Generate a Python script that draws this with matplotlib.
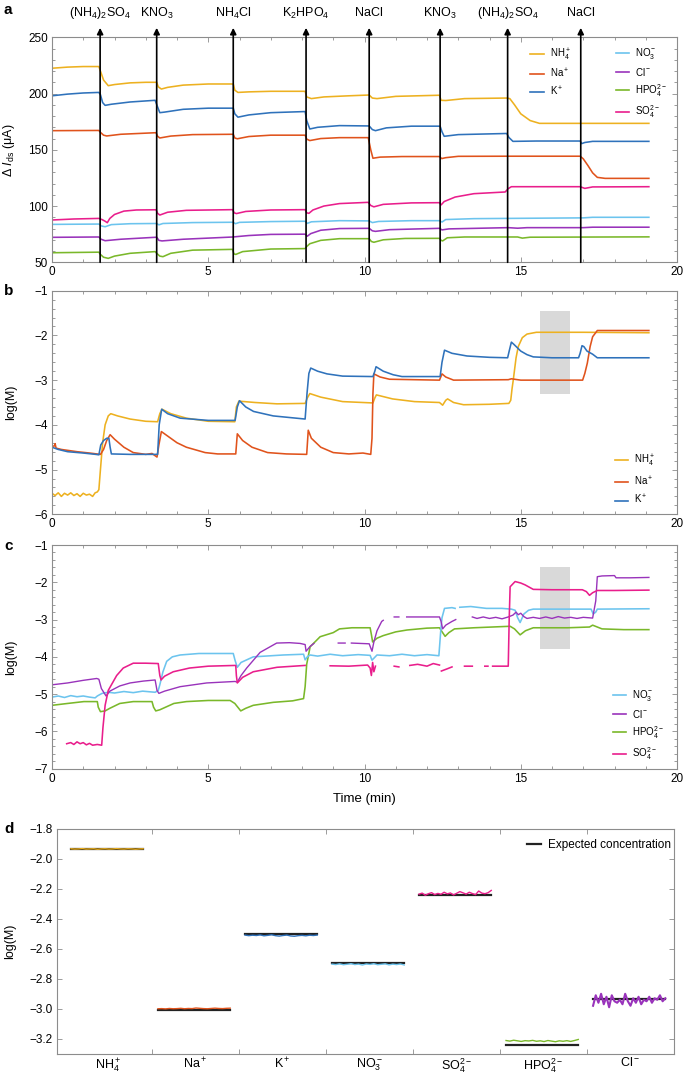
import numpy as np
import matplotlib
matplotlib.use('Agg')
import matplotlib.pyplot as plt
from matplotlib.ticker import MultipleLocator, FuncFormatter
from matplotlib.lines import Line2D

plt.rcParams['font.family'] = ['Liberation Sans', 'DejaVu Sans']
plt.rcParams['mathtext.fontset'] = 'custom'
plt.rcParams['mathtext.rm'] = 'Liberation Sans'
plt.rcParams['mathtext.it'] = 'Liberation Sans:italic'
plt.rcParams['mathtext.bf'] = 'Liberation Sans:bold'

# colours per ion
c_nh4 = '#EDB120'
c_na = '#E0531C'
c_k = '#2F72BB'
c_no3 = '#6CC4EE'
c_cl = '#9933BB'
c_hpo4 = '#7AB82A'
c_so4 = '#E91E8C'

# additions (panel a arrows)
add_times = [1.54, 3.35, 5.80, 8.13, 10.15, 12.42, 14.58, 16.92]
add_labels = [r'(NH$_4$)$_2$SO$_4$', r'KNO$_3$', r'NH$_4$Cl', r'K$_2$HPO$_4$',
              'NaCl', r'KNO$_3$', r'(NH$_4$)$_2$SO$_4$', 'NaCl']

# ---- panel a: delta Ids (uA), (time, value) pairs
nh4_a = [(0, 222.5), (0.5, 223.5), (1.0, 224), (1.5, 224), (1.55, 220), (1.65, 212), (1.8, 207),
         (2.0, 208), (2.5, 209.5), (3.0, 210), (3.35, 210), (3.4, 206), (3.5, 204), (3.7, 205.5),
         (4.2, 207.5), (5.0, 208.5), (5.8, 208.5), (5.85, 203), (5.95, 201), (6.3, 201.5),
         (7.0, 202), (8.1, 202), (8.15, 197), (8.3, 195.5), (8.7, 197), (9.5, 198), (10.15, 198.7),
         (10.25, 196), (10.4, 195.5), (11.0, 197.5), (12.4, 198.5), (12.45, 194), (12.6, 193.8),
         (13.2, 195.5), (14.55, 196), (14.65, 195.5), (14.8, 190), (15.0, 182), (15.3, 176),
         (15.6, 173.5), (19.1, 173.5)]
na_a = [(0, 167), (1.5, 167.2), (1.55, 165.5), (1.65, 163), (1.75, 162.3), (2.2, 163.8),
        (3.33, 165.2), (3.38, 162), (3.45, 160.5), (3.8, 162.2), (4.5, 163.5), (5.8, 163.8),
        (5.85, 160.5), (5.93, 159.8), (6.3, 161.8), (7.0, 163), (8.1, 163), (8.15, 159.5),
        (8.25, 158.2), (8.6, 160), (9.2, 160.8), (10.12, 160.8), (10.2, 150), (10.27, 142.5),
        (10.5, 143.5), (11.2, 144), (12.4, 144), (12.47, 142.2), (12.6, 143), (13.0, 144.2),
        (14.6, 144.3), (16.9, 144.3), (17.0, 142), (17.15, 136), (17.3, 129.5), (17.45, 125.5),
        (17.7, 124.6), (19.1, 124.6)]
k_a = [(0, 198), (0.5, 199.5), (1.0, 200.5), (1.5, 201), (1.55, 199), (1.62, 192), (1.7, 189.5),
       (1.9, 190.5), (2.5, 192.5), (3.3, 194), (3.38, 188), (3.45, 183), (3.6, 183.5), (4.2, 186),
       (5.0, 187), (5.8, 187), (5.85, 182), (5.95, 179), (6.3, 181), (7.0, 183), (8.1, 184),
       (8.15, 176), (8.25, 168.5), (8.5, 170), (9.2, 171.5), (10.15, 171.2), (10.25, 168),
       (10.35, 167), (10.7, 169.5), (11.5, 171), (12.42, 171), (12.48, 166), (12.55, 162),
       (13.0, 163.5), (14.55, 164.5), (14.62, 161), (14.75, 157.5), (15.5, 157.8), (16.9, 157.8),
       (16.95, 155.5), (17.05, 156.5), (17.3, 157.5), (19.1, 157.5)]
no3_a = [(0, 83.7), (1.5, 84), (1.58, 82.3), (1.7, 81.6), (1.9, 83.5), (2.5, 84.3), (3.35, 84.5),
         (3.42, 83.3), (3.55, 84.5), (4.5, 85.3), (5.8, 85.6), (5.87, 84.3), (6.0, 85.5),
         (7.0, 86.2), (8.1, 86.5), (8.17, 84.6), (8.3, 86), (9.2, 87), (10.15, 86.8),
         (10.25, 85.3), (10.45, 86.3), (11.5, 87), (12.4, 87), (12.48, 85.8), (12.6, 88),
         (13.5, 88.8), (17.0, 89.5), (17.3, 90), (19.1, 90)]
cl_a = [(0, 72.2), (1.5, 72.5), (1.57, 70.5), (1.7, 69.2), (2.2, 70.5), (3.35, 72.3), (3.42, 69.5),
        (3.52, 69), (4.2, 70.5), (5.8, 72.5), (5.9, 72.8), (6.3, 73.8), (7.0, 74.8), (8.1, 75),
        (8.17, 73.2), (8.28, 75.5), (8.6, 78.5), (9.2, 80), (10.15, 80.2), (10.25, 78),
        (10.35, 77.5), (10.8, 79), (12.4, 80.2), (12.48, 78.8), (12.7, 79.7), (14.6, 80.8),
        (14.9, 80.3), (15.2, 80.8), (17.0, 80.8), (17.3, 81.2), (19.1, 81.2)]
hpo4_a = [(0, 58.5), (1.5, 59), (1.55, 57), (1.65, 54.5), (1.8, 53.5), (2.0, 55.5), (2.5, 58),
          (3.3, 59.5), (3.35, 58), (3.45, 55.5), (3.55, 55), (3.8, 58), (4.5, 60.8), (5.78, 61.5),
          (5.82, 57.5), (5.88, 57), (6.1, 59.5), (7.0, 61.8), (8.1, 62.2), (8.15, 64), (8.25, 66.5),
          (8.6, 69.5), (9.2, 71), (10.15, 71), (10.22, 68.5), (10.3, 67.8), (10.6, 70),
          (11.3, 71.2), (12.4, 71.3), (12.45, 69.5), (12.5, 69), (12.65, 71.8), (13.2, 72.5),
          (14.9, 72.5), (15.05, 71.5), (15.3, 72.3), (19.1, 72.6)]
so4_a = [(0, 87.6), (0.7, 88.5), (1.5, 89), (1.6, 88), (1.7, 86.5), (1.77, 85.2), (1.85, 89),
         (2.0, 92.5), (2.3, 95.5), (2.7, 96.5), (3.33, 96.7), (3.38, 93.5), (3.45, 92), (3.7, 94.5),
         (4.3, 96.2), (5.78, 96.8), (5.83, 94), (5.9, 93.3), (6.2, 95.2), (7.0, 96.5), (8.1, 96.8),
         (8.15, 94), (8.22, 93.5), (8.35, 96.5), (8.7, 100), (9.2, 102.2), (10.12, 103.3),
         (10.2, 100.5), (10.3, 99.3), (10.6, 101.5), (11.5, 102.8), (12.4, 103), (12.45, 101),
         (12.55, 104), (12.9, 108), (13.5, 111), (14.5, 112.5), (14.6, 115.5), (14.7, 117.2),
         (16.9, 117.2), (17.05, 115.7), (17.3, 117), (19.1, 117.2)]

# ---- panel b: cations, log(M)
nh4_b = [(0.04, -5.55), (0.1, -5.58), (0.2, -5.52), (0.3, -5.6), (0.4, -5.53), (0.5, -5.57),
         (0.6, -5.52), (0.7, -5.58), (0.8, -5.54), (0.9, -5.6), (1.0, -5.53), (1.1, -5.57),
         (1.2, -5.55), (1.3, -5.6), (1.38, -5.52), (1.45, -5.5), (1.5, -5.45), (1.55, -5.0),
         (1.62, -4.4), (1.7, -4.0), (1.8, -3.8), (1.88, -3.75), (2.1, -3.8), (2.5, -3.87),
         (3.0, -3.92), (3.38, -3.93), (3.45, -3.75), (3.52, -3.65), (3.8, -3.75), (4.3, -3.85),
         (5.0, -3.92), (5.85, -3.93), (5.9, -3.6), (5.98, -3.47), (6.5, -3.5), (7.2, -3.53),
         (8.1, -3.52), (8.17, -3.4), (8.25, -3.3), (8.6, -3.38), (9.3, -3.48), (10.27, -3.51),
         (10.33, -3.4), (10.38, -3.33), (10.9, -3.42), (11.6, -3.48), (12.4, -3.5), (12.5, -3.56),
         (12.6, -3.45), (12.66, -3.42), (12.85, -3.5), (13.17, -3.55), (14.0, -3.54),
         (14.62, -3.52), (14.68, -3.45), (14.72, -3.2), (14.76, -3.0), (14.85, -2.5),
         (14.92, -2.25), (15.05, -2.05), (15.2, -1.97), (15.5, -1.93), (17.0, -1.93), (19.1, -1.94)]
na_b = [(0.0, -4.48), (0.08, -4.47), (0.1, -4.42), (0.13, -4.52), (0.3, -4.55), (0.8, -4.6),
        (1.2, -4.63), (1.55, -4.66), (1.65, -4.55), (1.75, -4.35), (1.86, -4.22), (2.0, -4.32),
        (2.3, -4.5), (2.6, -4.62), (3.0, -4.66), (3.2, -4.64), (3.36, -4.72), (3.42, -4.45),
        (3.5, -4.15), (3.7, -4.25), (4.0, -4.4), (4.3, -4.5), (4.9, -4.62), (5.3, -4.65),
        (5.88, -4.65), (5.93, -4.2), (6.1, -4.35), (6.4, -4.5), (6.9, -4.62), (7.5, -4.65),
        (8.15, -4.66), (8.2, -4.12), (8.3, -4.3), (8.6, -4.5), (9.0, -4.62), (9.5, -4.65),
        (9.95, -4.63), (10.2, -4.66), (10.24, -4.3), (10.27, -3.3), (10.3, -2.86), (10.5, -2.93),
        (10.8, -2.98), (12.4, -3.0), (12.48, -2.86), (12.6, -2.93), (12.85, -3.0), (14.6, -2.99),
        (14.7, -2.97), (15.0, -3.0), (16.98, -3.0), (17.05, -2.85), (17.13, -2.62),
        (17.22, -2.25), (17.3, -2.03), (17.45, -1.89), (19.1, -1.89)]
k_b = [(0.0, -4.5), (0.2, -4.55), (0.5, -4.6), (1.0, -4.63), (1.4, -4.66), (1.5, -4.67),
       (1.56, -4.45), (1.65, -4.35), (1.75, -4.3), (1.82, -4.3), (1.86, -4.5), (1.9, -4.65),
       (2.5, -4.66), (3.38, -4.66), (3.43, -4.0), (3.51, -3.65), (3.7, -3.75), (4.1, -3.85),
       (5.0, -3.9), (5.86, -3.9), (5.93, -3.6), (6.0, -3.46), (6.2, -3.6), (6.45, -3.7),
       (7.08, -3.8), (8.1, -3.87), (8.16, -3.3), (8.22, -2.85), (8.28, -2.73), (8.5, -2.8),
       (8.8, -2.86), (9.3, -2.91), (10.27, -2.92), (10.33, -2.8), (10.37, -2.7), (10.6, -2.8),
       (10.92, -2.88), (11.2, -2.92), (12.42, -2.92), (12.48, -2.6), (12.56, -2.33), (12.8, -2.4),
       (13.28, -2.46), (14.0, -2.49), (14.58, -2.5), (14.63, -2.35), (14.7, -2.15), (14.78, -2.2),
       (15.0, -2.35), (15.2, -2.43), (15.4, -2.48), (16.0, -2.5), (16.85, -2.5), (16.9, -2.4),
       (16.96, -2.23), (17.02, -2.25), (17.12, -2.35), (17.3, -2.42), (17.45, -2.5), (19.1, -2.5)]

nan = float('nan')
# ---- panel c: anions, log(M); nan = gap in the trace
no3_c = [(0, -5.08), (0.2, -5.05), (0.4, -5.09), (0.6, -5.04), (0.8, -5.07), (1.0, -5.05),
         (1.2, -5.08), (1.38, -5.1), (1.45, -5.05), (1.6, -4.98), (1.8, -4.95), (2.0, -4.97),
         (2.3, -4.93), (2.6, -4.96), (2.9, -4.92), (3.3, -4.95), (3.4, -4.9), (3.45, -4.75),
         (3.55, -4.4), (3.67, -4.12), (3.85, -4.0), (4.1, -3.95), (4.7, -3.91), (5.8, -3.91),
         (5.86, -4.1), (5.93, -4.28), (6.05, -4.15), (6.44, -4.0), (7.4, -3.95), (8.05, -3.93),
         (8.1, -4.08), (8.17, -4.0), (8.26, -3.95), (8.5, -3.98), (8.9, -3.93), (9.3, -3.97),
         (9.8, -3.94), (10.18, -3.96), (10.24, -4.09), (10.4, -3.95), (10.8, -3.97), (11.2, -3.93),
         (11.6, -3.97), (12.0, -3.94), (12.38, -3.97), (12.44, -3.3), (12.48, -2.95),
         (12.56, -2.7), (12.8, -2.68), (12.9, -2.7), (13.0, nan), (13.05, -2.67), (13.4, -2.65),
         (13.9, -2.7), (14.4, -2.7), (14.7, -2.72), (14.82, -2.75), (14.9, -2.95), (14.98, -3.08),
         (15.1, -2.85), (15.25, -2.75), (15.4, -2.72), (16.5, -2.72), (17.25, -2.72),
         (17.32, -2.85), (17.4, -2.8), (17.45, -2.72), (19.1, -2.71)]
cl_c = [(0, -4.75), (0.5, -4.7), (1.0, -4.63), (1.43, -4.58), (1.5, -4.6), (1.58, -4.85),
        (1.73, -5.05), (1.85, -4.92), (2.17, -4.78), (2.5, -4.7), (2.92, -4.65), (3.3, -4.62),
        (3.36, -4.9), (3.42, -4.98), (3.6, -4.92), (4.1, -4.8), (4.95, -4.7), (5.86, -4.66),
        (5.93, -4.68), (6.05, -4.5), (6.23, -4.3), (6.66, -3.88), (7.19, -3.63), (7.6, -3.62),
        (7.94, -3.64), (8.1, -3.67), (8.13, -3.85), (8.26, -3.72), (8.38, -3.64), (8.5, nan),
        (9.16, -3.63), (9.38, -3.63), (9.45, nan), (9.58, -3.63), (10.15, -3.65), (10.24, -3.85),
        (10.3, -3.6), (10.4, -3.3), (10.55, -3.05), (10.6, -3.02), (10.7, nan), (10.95, -2.93),
        (11.1, -2.93), (11.2, nan), (11.35, -2.93), (12.4, -2.93), (12.45, -3.05), (12.5, -3.25),
        (12.6, -3.15), (12.8, -3.05), (12.92, -3.0), (13.0, nan), (13.45, -2.93), (13.6, -2.97),
        (13.8, -2.93), (14.0, -2.97), (14.2, -2.94), (14.4, -2.98), (14.6, -2.93), (14.75, -2.88),
        (14.85, -2.8), (14.92, -2.87), (15.0, -2.83), (15.1, -2.92), (15.2, -2.97), (15.4, -2.94),
        (15.6, -2.97), (15.8, -2.93), (16.0, -2.97), (16.2, -2.92), (16.4, -2.96), (16.6, -2.94),
        (16.8, -2.97), (17.0, -2.94), (17.3, -2.96), (17.4, -2.5), (17.45, -1.85), (17.6, -1.83),
        (18.0, -1.82), (18.05, -1.88), (18.5, -1.88), (19.1, -1.87)]
hpo4_c = [(0, -5.3), (0.5, -5.25), (1.02, -5.2), (1.45, -5.2), (1.48, -5.35), (1.55, -5.47),
          (1.7, -5.45), (1.85, -5.38), (2.17, -5.25), (2.6, -5.2), (3.2, -5.2), (3.25, -5.35),
          (3.32, -5.45), (3.45, -5.42), (3.9, -5.25), (4.3, -5.2), (5.0, -5.17), (5.7, -5.17),
          (5.85, -5.25), (6.04, -5.45), (6.2, -5.38), (6.44, -5.3), (7.08, -5.22), (7.7, -5.18),
          (8.05, -5.12), (8.1, -4.8), (8.15, -4.2), (8.26, -3.73), (8.58, -3.46), (9.0, -3.35),
          (9.2, -3.25), (9.6, -3.22), (10.18, -3.22), (10.22, -3.4), (10.26, -3.6), (10.4, -3.5),
          (10.6, -3.43), (11.0, -3.33), (11.36, -3.28), (12.0, -3.23), (12.4, -3.22),
          (12.46, -3.3), (12.58, -3.45), (12.7, -3.35), (12.88, -3.25), (13.5, -3.22),
          (14.66, -3.18), (14.8, -3.25), (14.98, -3.41), (15.15, -3.3), (15.4, -3.22),
          (16.5, -3.22), (17.2, -3.2), (17.3, -3.15), (17.45, -3.2), (17.6, -3.25), (18.3, -3.27),
          (19.1, -3.27)]
so4_c = [(0.47, -6.33), (0.6, -6.3), (0.7, -6.35), (0.8, -6.28), (0.9, -6.33), (1.0, -6.3),
         (1.1, -6.36), (1.2, -6.32), (1.3, -6.37), (1.45, -6.35), (1.59, -6.37), (1.63, -5.9),
         (1.7, -5.3), (1.8, -4.9), (2.07, -4.5), (2.28, -4.3), (2.6, -4.17), (3.0, -4.17),
         (3.4, -4.18), (3.45, -4.5), (3.49, -4.62), (3.6, -4.52), (3.88, -4.4), (4.4, -4.3),
         (5.0, -4.25), (5.88, -4.23), (5.9, -4.5), (5.93, -4.7), (6.1, -4.55), (6.44, -4.4),
         (7.2, -4.28), (8.1, -4.23), (8.5, nan), (8.9, -4.24), (9.5, -4.25), (10.1, -4.22),
         (10.18, -4.3), (10.22, -4.5), (10.26, -4.15), (10.3, -4.4), (10.35, -4.25), (10.5, nan),
         (10.95, -4.25), (11.1, -4.27), (11.3, nan), (11.45, -4.23), (11.7, -4.2), (12.0, -4.25),
         (12.2, -4.18), (12.4, -4.22), (12.43, nan), (12.46, -4.38), (12.65, -4.32),
         (12.8, -4.27), (13.0, nan), (13.2, -4.25), (13.45, -4.25), (13.6, nan), (13.85, -4.25),
         (13.95, -4.25), (14.0, nan), (14.1, -4.25), (14.6, -4.25), (14.63, -3.0), (14.66, -2.12),
         (14.82, -1.98), (15.0, -2.02), (15.14, -2.07), (15.4, -2.19), (16.0, -2.2),
         (16.97, -2.2), (17.1, -2.25), (17.2, -2.35), (17.3, -2.28), (17.45, -2.22), (18.0, -2.22),
         (19.1, -2.21)]

# grey window used for panel d
win_t = (15.62, 16.58)
win_b = (-3.32, -1.45)
win_c = (-3.8, -1.58)

# ---- panel d: readings inside the window, log(M)
d_names = [r'NH$_4^+$', r'Na$^+$', r'K$^+$', r'NO$_3^-$', r'SO$_4^{2-}$', r'HPO$_4^{2-}$', r'Cl$^-$']
d_colors = [c_nh4, c_na, c_k, c_no3, c_so4, c_hpo4, c_cl]
nh4_d = [-1.932, -1.934, -1.933, -1.931, -1.934, -1.933, -1.932, -1.935, -1.933, -1.932,
         -1.934, -1.933, -1.931, -1.933, -1.934, -1.932, -1.933, -1.935, -1.933, -1.932]
na_d = [-3.0, -2.999, -3.001, -2.998, -3.0, -2.999, -2.997, -3.0, -2.998, -2.999,
        -2.995, -2.997, -2.999, -3.0, -2.998, -2.996, -2.998, -2.999, -2.997, -2.996]
k_d = [-2.508, -2.512, -2.509, -2.511, -2.507, -2.513, -2.51, -2.506, -2.512, -2.515,
       -2.511, -2.508, -2.514, -2.516, -2.512, -2.51, -2.513, -2.509, -2.511, -2.508]
no3_d = [-2.702, -2.705, -2.7, -2.706, -2.703, -2.699, -2.705, -2.702, -2.708, -2.701,
         -2.704, -2.699, -2.706, -2.703, -2.7, -2.707, -2.702, -2.705, -2.701, -2.708]
so4_d = [-2.235, -2.228, -2.242, -2.232, -2.225, -2.238, -2.23, -2.236, -2.222, -2.233, -2.227,
         -2.24, -2.229, -2.218, -2.226, -2.235, -2.222, -2.231, -2.238, -2.214, -2.228, -2.232,
         -2.225, -2.21]
hpo4_d = [-3.212, -3.216, -3.21, -3.214, -3.218, -3.213, -3.215, -3.211, -3.217, -3.214,
          -3.219, -3.212, -3.216, -3.22, -3.214, -3.217, -3.213, -3.218, -3.212, -3.205]
cl_d = [-2.98, -2.91, -2.96, -2.9, -2.97, -2.92, -2.99, -2.91, -2.95, -2.96, -2.94, -2.97, -2.9,
        -2.95, -2.98, -2.93, -2.96, -2.92, -2.97, -2.94, -2.95, -2.92, -2.96, -2.93, -2.94,
        -2.91, -2.95, -2.93]
expected_d = [-1.933, -3.011, -2.498, -2.694, -2.239, -3.24, -2.932]

W, H = 685, 1078
fig = plt.figure(figsize=(W / 100, H / 100), dpi=100)


def box(l, t, r, b):
    return fig.add_axes([l / W, 1 - b / H, (r - l) / W, (b - t) / H])


def style(ax, minor_x=None, minor_y=None):
    for s in ax.spines.values():
        s.set_color('#8c8c8c')
        s.set_linewidth(0.8)
    ax.tick_params(which='both', direction='in', top=True, right=True, color='#8c8c8c',
                   labelsize=8.5, width=0.6, pad=3)
    ax.tick_params(which='major', length=3.5)
    ax.tick_params(which='minor', length=2)
    if minor_x:
        ax.xaxis.set_minor_locator(MultipleLocator(minor_x))
    if minor_y:
        ax.yaxis.set_minor_locator(MultipleLocator(minor_y))


def trace(ax, pts, color, lw=1.15):
    t, v = zip(*pts)
    ax.plot(t, v, color=color, lw=lw, solid_joinstyle='round')


def small_legend(ax, colors, labels, anchor, loc, spacing):
    hs = [Line2D([], [], color=c, lw=1.2) for c in colors]
    return ax.legend(hs, labels, loc=loc, bbox_to_anchor=anchor, frameon=False, fontsize=7,
                     handlelength=1.4, handletextpad=0.6, labelspacing=spacing,
                     borderaxespad=0, borderpad=0)


minus = FuncFormatter(lambda v, p: ('%g' % v).replace('-', '\u2212'))

# ---------------- a
ax_a = box(52, 37.3, 677, 262.3)
for pts, col in [(nh4_a, c_nh4), (na_a, c_na), (k_a, c_k), (no3_a, c_no3),
                 (cl_a, c_cl), (hpo4_a, c_hpo4), (so4_a, c_so4)]:
    trace(ax_a, pts, col)
ax_a.set_xlim(0, 20)
ax_a.set_ylim(50, 250)
ax_a.set_xticks([0, 5, 10, 15, 20])
ax_a.set_yticks([50, 100, 150, 200, 250])
style(ax_a, 1, 10)
ax_a.set_ylabel(r'$\Delta\ \mathit{I}_{\mathrm{ds}}$ ($\mathrm{\mu}$A)', fontsize=9)
ax_a.yaxis.set_label_coords(-0.056, 0.5)
for t, lab in zip(add_times, add_labels):
    ax_a.annotate('', xy=(t, 1.042), xytext=(t, 0), xycoords=('data', 'axes fraction'),
                  textcoords=('data', 'axes fraction'), annotation_clip=False,
                  arrowprops=dict(arrowstyle='-|>', color='black', lw=1.2, mutation_scale=9,
                                  shrinkA=0, shrinkB=0))
    ax_a.text(t, 1.108, lab, transform=ax_a.get_xaxis_transform(), ha='center', va='center',
              fontsize=9, clip_on=False)
leg1 = small_legend(ax_a, (c_nh4, c_na, c_k), [r'NH$_4^+$', r'Na$^+$', r'K$^+$'],
                    (0.765, 0.96), 'upper left', 0.45)
ax_a.add_artist(leg1)
small_legend(ax_a, (c_no3, c_cl, c_hpo4, c_so4),
             [r'NO$_3^-$', r'Cl$^-$', r'HPO$_4^{2-}$', r'SO$_4^{2-}$'],
             (0.902, 0.96), 'upper left', 0.45)

# ---------------- b
ax_b = box(52, 290.7, 677, 514.3)
ax_b.fill_between(win_t, win_b[0], win_b[1], color='#d9d9d9', lw=0, zorder=0)
trace(ax_b, nh4_b, c_nh4)
trace(ax_b, na_b, c_na)
trace(ax_b, k_b, c_k)
ax_b.set_xlim(0, 20)
ax_b.set_ylim(-6, -1)
ax_b.set_xticks([0, 5, 10, 15, 20])
ax_b.set_yticks([-6, -5, -4, -3, -2, -1])
style(ax_b, 1, 0.2)
ax_b.yaxis.set_major_formatter(minus)
ax_b.set_ylabel('log(M)', fontsize=9)
ax_b.yaxis.set_label_coords(-0.056, 0.5)
small_legend(ax_b, (c_nh4, c_na, c_k), [r'NH$_4^+$', r'Na$^+$', r'K$^+$'],
             (0.9, 0.035), 'lower left', 0.55)

# ---------------- c
ax_c = box(52, 545, 677, 768.7)
ax_c.fill_between(win_t, win_c[0], win_c[1], color='#d9d9d9', lw=0, zorder=0)
trace(ax_c, hpo4_c, c_hpo4)
trace(ax_c, no3_c, c_no3)
trace(ax_c, cl_c, c_cl, lw=1.0)
trace(ax_c, so4_c, c_so4)
ax_c.set_xlim(0, 20)
ax_c.set_ylim(-7, -1)
ax_c.set_xticks([0, 5, 10, 15, 20])
ax_c.set_yticks([-7, -6, -5, -4, -3, -2, -1])
style(ax_c, 1, 0.2)
ax_c.yaxis.set_major_formatter(minus)
ax_c.set_ylabel('log(M)', fontsize=9)
ax_c.yaxis.set_label_coords(-0.056, 0.5)
ax_c.set_xlabel('Time (min)', fontsize=9.5, labelpad=6)
small_legend(ax_c, (c_no3, c_cl, c_hpo4, c_so4),
             [r'NO$_3^-$', r'Cl$^-$', r'HPO$_4^{2-}$', r'SO$_4^{2-}$'],
             (0.897, 0.03), 'lower left', 0.45)

# ---------------- d
ax_d = box(57, 829, 674, 1053.7)
d_series = [nh4_d, na_d, k_d, no3_d, so4_d, hpo4_d, cl_d]
for i, (vals, col, exp) in enumerate(zip(d_series, d_colors, expected_d)):
    x0, x1 = i + 1 - 0.43, i + 1 + 0.40
    ax_d.plot([x0, x1], [exp, exp], color='#222222', lw=1.6, zorder=2)
    ax_d.plot(np.linspace(x0, x1, len(vals)), vals, color=col,
              lw=1.5 if vals is cl_d else 1.0, zorder=3)
ax_d.set_xlim(0.41, 7.5)
ax_d.set_ylim(-3.3, -1.8)
ax_d.set_yticks(np.arange(-3.2, -1.79, 0.2))
ax_d.yaxis.set_major_formatter(FuncFormatter(lambda v, p: ('%.1f' % v).replace('-', '\u2212')))
ax_d.set_xticks(range(1, 8))
ax_d.set_xticklabels(d_names)
ax_d.set_xticks([1.5, 2.5, 3.5, 4.5, 5.5, 6.5], minor=True)
style(ax_d)
ax_d.tick_params(axis='x', which='major', length=0, labelsize=9, pad=2)
ax_d.tick_params(axis='x', which='minor', length=3.5)
ax_d.set_ylabel('log(M)', fontsize=9)
ax_d.yaxis.set_label_coords(-0.066, 0.5)
ax_d.legend([Line2D([], [], color='#222222', lw=1.6)], ['Expected concentration'],
            loc='upper left', bbox_to_anchor=(0.762, 0.955), frameon=False, fontsize=8.5,
            handlelength=1.2, handletextpad=0.6, borderaxespad=0, borderpad=0)

for lab, y in [('a', 10), ('b', 291), ('c', 546), ('d', 829)]:
    fig.text(4 / W, 1 - y / H, lab, fontsize=11, fontweight='bold', va='center', ha='left')

fig.savefig('out.png', dpi=100)
